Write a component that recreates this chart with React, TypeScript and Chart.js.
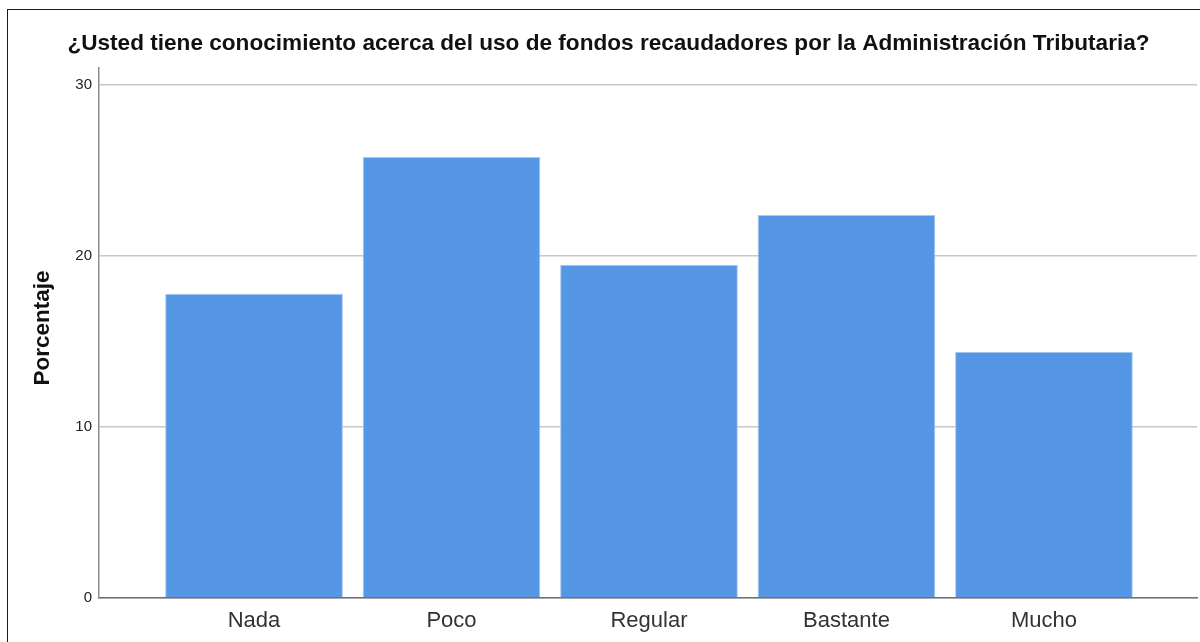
import React, { useEffect, useRef } from "react";
import { Chart, registerables } from "chart.js";

Chart.register(...registerables);

const categories: string[] = ["Nada", "Poco", "Regular", "Bastante", "Mucho"];
const percentages: number[] = [17.8, 25.8, 19.5, 22.4, 14.4];
const yTicks: number[] = [0, 10, 20, 30];
const chartTitle = "¿Usted tiene conocimiento acerca del uso de fondos recaudadores por la Administración Tributaria?";
const yAxisTitle = "Porcentaje";

const FONT = "'Liberation Sans', Arial, sans-serif";

const framePlugin = {
  id: "frame",
  beforeDraw(chart: any) {
    const ctx = chart.ctx;
    ctx.save();
    ctx.fillStyle = "#ffffff";
    ctx.fillRect(0, 0, chart.width, chart.height);
    ctx.fillStyle = "#1a1a1a";
    ctx.fillRect(7, 9, 1, chart.height - 9);
    ctx.fillRect(7, 9, chart.width - 7, 1);
    ctx.restore();
  },
  afterDraw(chart: any) {
    const ctx = chart.ctx;
    const area = chart.chartArea;
    ctx.save();
    ctx.translate(43, (area.top + area.bottom) / 2 - 5);
    ctx.rotate(-Math.PI / 2);
    ctx.fillStyle = "#111111";
    ctx.font = `bold 22.5px ${FONT}`;
    ctx.textAlign = "center";
    ctx.textBaseline = "middle";
    ctx.fillText(yAxisTitle, 0, 0);
    ctx.restore();
  },
};

export default function App() {
  const ref = useRef<HTMLCanvasElement | null>(null);
  useEffect(() => {
    if (!ref.current) return;
    const chart = new Chart(ref.current, {
      type: "bar",
      data: {
        datasets: [
          {
            label: yAxisTitle,
            data: percentages.map((v, i) => ({ x: i, y: v })),
            backgroundColor: "#5596e5",
            borderColor: "#a9c9f2",
            borderWidth: 1,
            categoryPercentage: 0.9,
            barPercentage: 1.0,
          },
        ],
      },
      options: {
        animation: false,
        responsive: false,
        devicePixelRatio: 1,
        layout: { padding: { left: 20, right: 3, top: 0, bottom: 0 } },
        plugins: {
          legend: { display: false },
          tooltip: { enabled: false },
          title: {
            display: true,
            text: chartTitle,
            color: "#111111",
            font: { family: FONT, size: 22.6, weight: "bold", lineHeight: 1.2 },
            padding: { top: 30, bottom: 11 },
          },
        },
        scales: {
          x: {
            type: "linear",
            min: -0.785,
            max: 4.775,
            offset: false,
            grid: { display: false, drawTicks: false },
            border: { display: true, color: "#707070", width: 1.5 },
            ticks: {
              stepSize: 1,
              includeBounds: false,
              autoSkip: false,
              maxRotation: 0,
              padding: 10,
              color: "#333333",
              font: { family: FONT, size: 22 },
              callback: (v: any) => (Number.isInteger(v) && v >= 0 && v < categories.length ? categories[v] : ""),
            },
            afterFit: (s: any) => {
              s.height = 44;
            },
          },
          y: {
            type: "linear",
            min: 0,
            max: 31,
            afterBuildTicks: (s: any) => {
              s.ticks = yTicks.map((v) => ({ value: v }));
            },
            grid: { color: "#c8c8c8", lineWidth: 1.5, drawTicks: false },
            border: { display: true, color: "#8c8c8c", width: 1.5 },
            ticks: {
              padding: 7,
              color: "#222222",
              font: { family: FONT, size: 15 },
            },
            title: { display: false },
            afterFit: (s: any) => {
              s.width = 79;
            },
          },
        },
      },
      plugins: [framePlugin],
    } as any);
    return () => chart.destroy();
  }, []);
  return (
    <div style={{ position: "absolute", left: 0, top: 0, width: 1200, height: 642 }}>
      <canvas ref={ref} width={1200} height={642} />
    </div>
  );
}
